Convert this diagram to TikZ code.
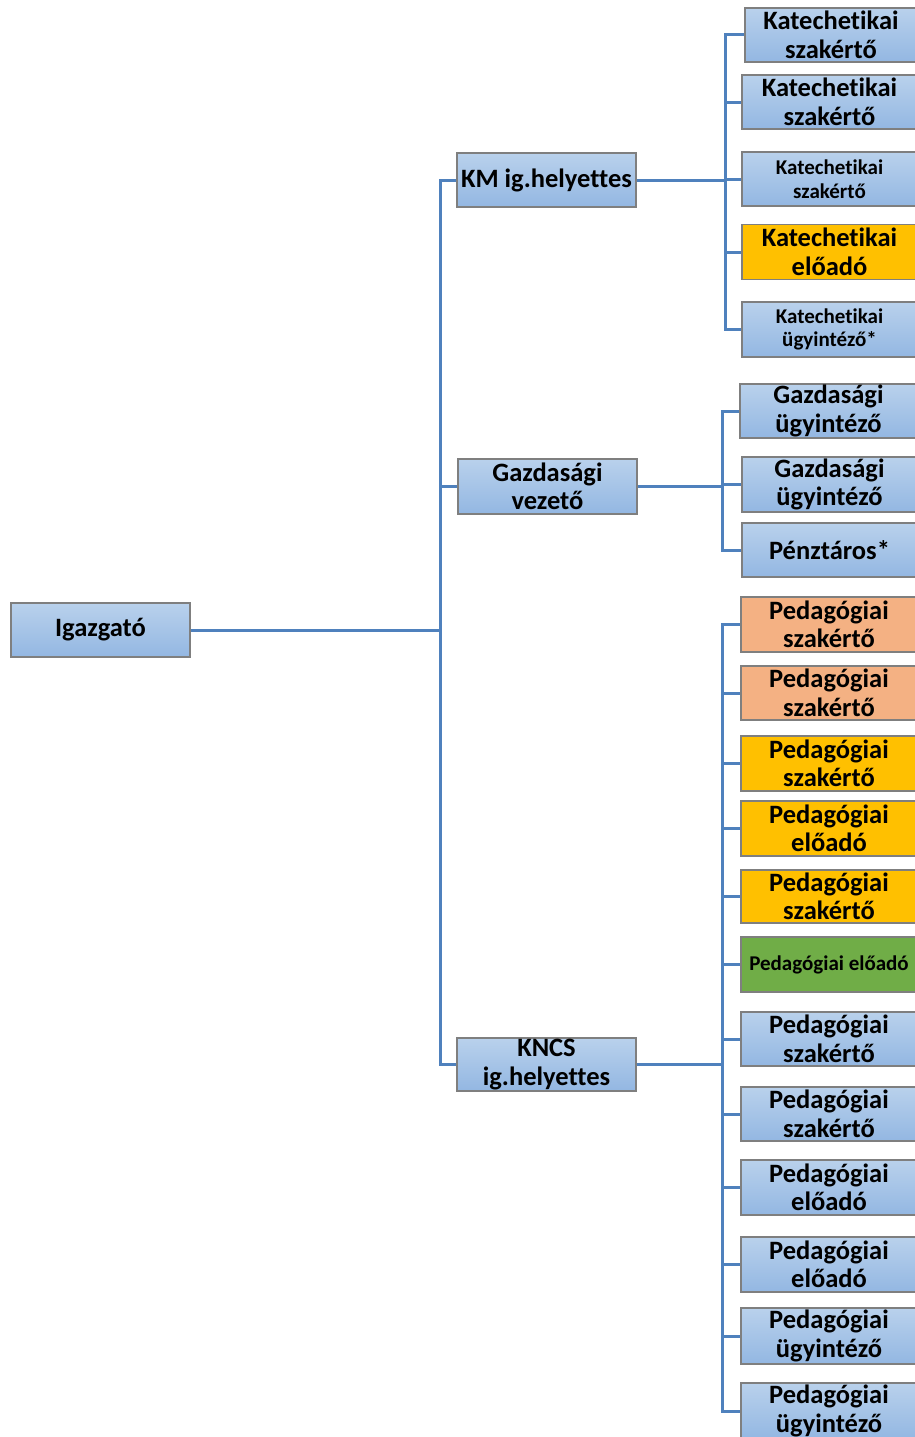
\documentclass[tikz,border=0pt]{standalone}
\usepackage{fontspec}
\setmainfont[Ligatures=CommonOff]{Carlito}
\definecolor{btop}{HTML}{B9D1EC}
\definecolor{bbot}{HTML}{93B7E2}
\definecolor{bord}{HTML}{7F7F7F}
\definecolor{conncol}{HTML}{4F81BD}
\definecolor{gold}{HTML}{FFC000}
\definecolor{salmon}{HTML}{F4B183}
\definecolor{grn}{HTML}{70AD47}
\tikzset{
  box/.style={draw=bord, line width=1.2pt, top color=btop, bottom color=bbot, align=center, inner sep=0pt, text=black, font=\bfseries\fontsize{26.5}{28.5}\selectfont},
  smalltext/.style={font=\bfseries\fontsize{21}{23.5}\selectfont},
  goldbox/.style={box, top color=gold, bottom color=gold},
  salbox/.style={box, top color=salmon, bottom color=salmon},
  grnbox/.style={box, top color=grn, bottom color=grn},
  conn/.style={draw=conncol, line width=3pt},
}
\begin{document}
\begin{tikzpicture}[x=1pt,y=-1pt]
\useasboundingbox (0,0) rectangle (915,1437);
% level 0/1
\node[box, minimum width=179, minimum height=54] (igaz) at (100.5,630) {Igazgató};
\node[box, minimum width=179, minimum height=54] (km) at (546.5,180) {KM ig.helyettes};
\node[box, minimum width=179, minimum height=55] (gv) at (547.5,486.5) {Gazdasági\\vezető};
\node[box, minimum width=179, minimum height=53] (kncs) at (546.5,1064.5) {KNCS\\ig.helyettes};
\coordinate (t) at (440,0);
\coordinate (b1) at (725,0);
\coordinate (b2) at (722,0);
\coordinate (b3) at (722,0);
% group 1
\node[box, minimum width=172, minimum height=54] (k1) at (831,35) {Katechetikai\\szakértő};
\node[box, minimum width=175, minimum height=54] (k2) at (829.5,102) {Katechetikai\\szakértő};
\node[box, smalltext, minimum width=175, minimum height=54] (k3) at (829.5,179) {Katechetikai\\szakértő};
\node[goldbox, minimum width=175, minimum height=55] (k4) at (829.5,252) {Katechetikai\\előadó};
\node[box, smalltext, minimum width=175, minimum height=55] (k5) at (829.5,329.5) {Katechetikai\\ügyintéző*};
% group 2
\node[box, minimum width=177, minimum height=54] (g1) at (828.5,411) {Gazdasági\\ügyintéző};
\node[box, minimum width=175, minimum height=55] (g2) at (829.5,484.5) {Gazdasági\\ügyintéző};
\node[box, minimum width=175, minimum height=54] (g3) at (829.5,550) {Pénztáros*};
% group 3
\node[salbox, minimum width=176, minimum height=55] (p1) at (829,624.5) {Pedagógiai\\szakértő};
\node[salbox, minimum width=176, minimum height=54] (p2) at (829,693) {Pedagógiai\\szakértő};
\node[goldbox, minimum width=176, minimum height=55] (p3) at (829,763.5) {Pedagógiai\\szakértő};
\node[goldbox, minimum width=176, minimum height=55] (p4) at (829,828.5) {Pedagógiai\\előadó};
\node[goldbox, minimum width=176, minimum height=53] (p5) at (829,896.5) {Pedagógiai\\szakértő};
\node[grnbox, smalltext, minimum width=176, minimum height=55] (p6) at (829,964.5) {Pedagógiai előadó};
\node[box, minimum width=176, minimum height=54] (p7) at (829,1039) {Pedagógiai\\szakértő};
\node[box, minimum width=176, minimum height=54] (p8) at (829,1114) {Pedagógiai\\szakértő};
\node[box, minimum width=176, minimum height=55] (p9) at (829,1187.5) {Pedagógiai\\előadó};
\node[box, minimum width=176, minimum height=55] (p10) at (829,1264.5) {Pedagógiai\\előadó};
\node[box, minimum width=176, minimum height=56] (p11) at (829,1336) {Pedagógiai\\ügyintéző};
\node[box, minimum width=176, minimum height=56] (p12) at (829,1411) {Pedagógiai\\ügyintéző};
% connectors level 1
\draw[conn] (igaz.east) -- (igaz.east -| t);
\draw[conn] (km.west) -- (km.west -| t) -- (kncs.west -| t) -- (kncs.west);
\draw[conn] (gv.west) -- (gv.west -| t);
% group 1
\draw[conn] (km.east) -- (km.east -| b1);
\draw[conn] (k1.west) -- (k1.west -| b1) -- (k5.west -| b1) -- (k5.west);
\foreach \n in {k2,k3,k4} \draw[conn] (\n.west) -- (\n.west -| b1);
% group 2
\draw[conn] (gv.east) -- (gv.east -| b2);
\draw[conn] (g1.west) -- (g1.west -| b2) -- (g3.west -| b2) -- (g3.west);
\draw[conn] (g2.west) -- (g2.west -| b2);
% group 3
\draw[conn] (kncs.east) -- (kncs.east -| b3);
\draw[conn] (p1.west) -- (p1.west -| b3) -- (p12.west -| b3) -- (p12.west);
\foreach \n in {p2,p3,p4,p5,p6,p7,p8,p9,p10,p11} \draw[conn] (\n.west) -- (\n.west -| b3);
\end{tikzpicture}
\end{document}
